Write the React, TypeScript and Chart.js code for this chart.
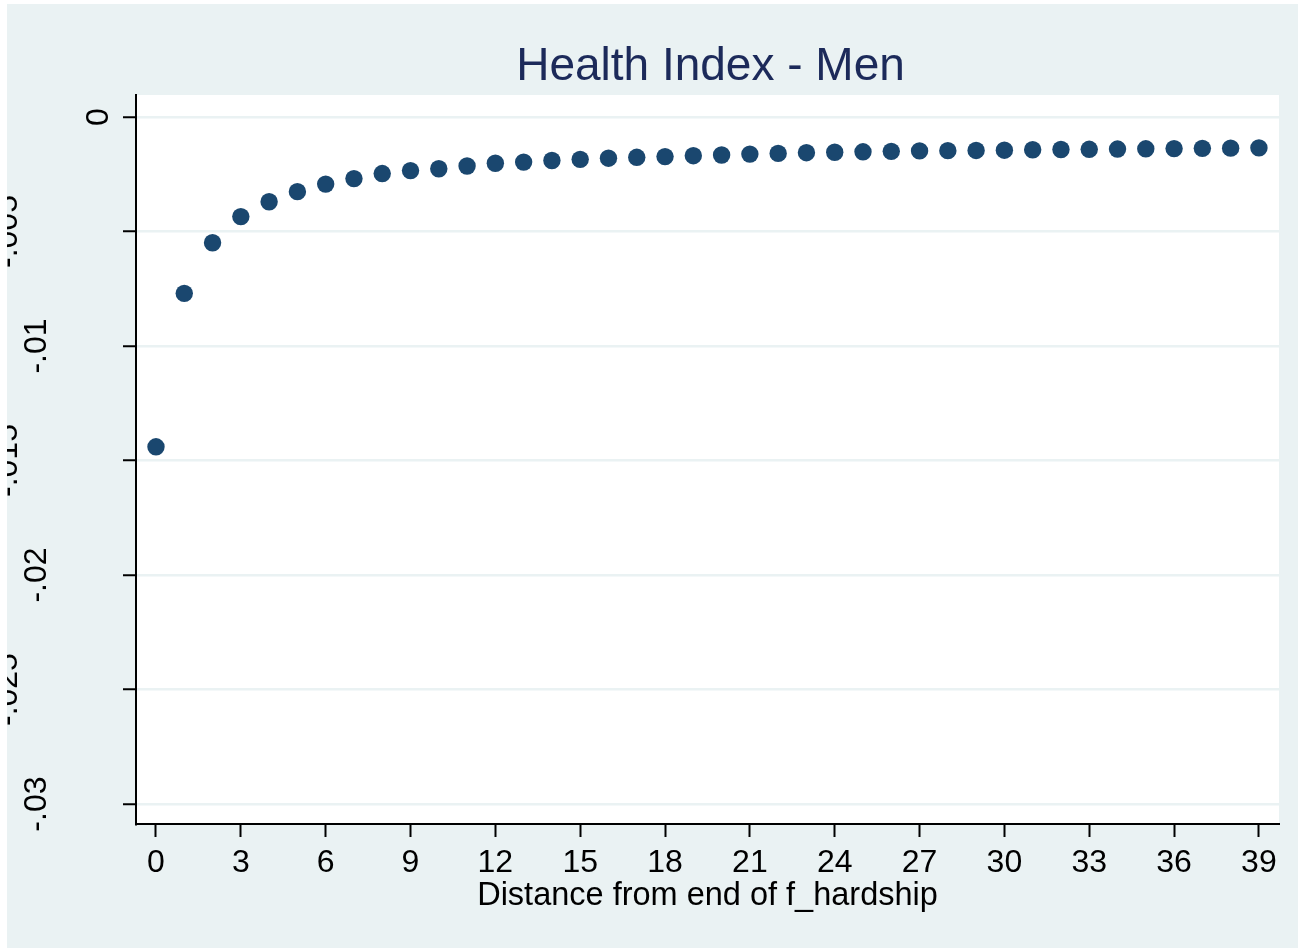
import React, { useEffect, useRef } from "react";
import { Chart, registerables } from "chart.js";

Chart.register(...registerables);

const chartTitle = "Health Index - Men";
const xAxisTitle = "Distance from end of f_hardship";

const xValues = [
  0, 1, 2, 3, 4, 5, 6, 7, 8, 9, 10, 11, 12, 13, 14, 15, 16, 17, 18, 19,
  20, 21, 22, 23, 24, 25, 26, 27, 28, 29, 30, 31, 32, 33, 34, 35, 36, 37, 38, 39,
];

const yValues = [
  -0.0144, -0.0077, -0.00549, -0.00435, -0.0037, -0.00326, -0.00293, -0.00269,
  -0.00247, -0.00234, -0.00226, -0.00214, -0.00202, -0.00197, -0.0019, -0.00185,
  -0.0018, -0.00176, -0.00173, -0.00169, -0.00166, -0.00162, -0.00159, -0.00156,
  -0.00154, -0.00152, -0.0015, -0.00148, -0.00147, -0.00146, -0.00145, -0.00143,
  -0.00142, -0.00141, -0.0014, -0.00139, -0.00138, -0.00137, -0.00136, -0.00135,
];

const xTickValues = [0, 3, 6, 9, 12, 15, 18, 21, 24, 27, 30, 33, 36, 39];
const xTickLabels = ["0", "3", "6", "9", "12", "15", "18", "21", "24", "27", "30", "33", "36", "39"];

const yTickValues = [0, -0.005, -0.01, -0.015, -0.02, -0.025, -0.03];
const yTickLabels = ["0", "-.005", "-.01", "-.015", "-.02", "-.025", "-.03"];

const FONT = "'Liberation Sans', Arial, Helvetica, sans-serif";
const BG = "#EAF2F3";
const MARKER = "#1A476F";

const backgroundPlugin = {
  id: "stataBackground",
  beforeDraw(chart: any) {
    const { ctx, width, height, chartArea } = chart;
    ctx.save();
    ctx.fillStyle = "#ffffff";
    ctx.fillRect(0, 0, width, height);
    ctx.fillStyle = BG;
    ctx.fillRect(7, 4, width - 7, height - 4);
    ctx.fillStyle = "#ffffff";
    ctx.fillRect(chartArea.left, chartArea.top, chartArea.right - chartArea.left, chartArea.bottom - chartArea.top);
    ctx.restore();
  },
  afterDraw(chart: any) {
    const { ctx, chartArea, width, height } = chart;
    const yScale = chart.scales.y;
    ctx.save();
    // title
    ctx.fillStyle = "#1C2A5A";
    ctx.font = `46px ${FONT}`;
    ctx.textAlign = "center";
    ctx.textBaseline = "alphabetic";
    ctx.fillText(chartTitle, (chartArea.left + chartArea.right) / 2 + 3, 80);
    // rotated y tick labels, clipped to the graph region
    ctx.beginPath();
    ctx.rect(7, 4, width - 7, height - 4);
    ctx.clip();
    ctx.fillStyle = "#000000";
    ctx.font = `32px ${FONT}`;
    yTickValues.forEach((v, i) => {
      const label = yTickLabels[i];
      const py = yScale.getPixelForValue(v);
      const w = ctx.measureText(label).width;
      const bx = chartArea.left + 1 - 1.65 * w;
      ctx.save();
      ctx.translate(bx, py);
      ctx.rotate(-Math.PI / 2);
      ctx.textAlign = "center";
      ctx.textBaseline = "alphabetic";
      ctx.fillText(label, 0, 0);
      ctx.restore();
    });
    ctx.restore();
  },
};

export default function App() {
  const canvasRef = useRef<HTMLCanvasElement | null>(null);

  useEffect(() => {
    if (!canvasRef.current) return;
    const chart = new Chart(canvasRef.current, {
      type: "scatter",
      data: {
        datasets: [
          {
            data: xValues.map((x, i) => ({ x, y: yValues[i] })),
            backgroundColor: MARKER,
            borderColor: MARKER,
            borderWidth: 0,
            pointRadius: 8.7,
            pointHoverRadius: 8.7,
          },
        ],
      },
      options: {
        animation: false,
        responsive: true,
        maintainAspectRatio: false,
        events: [],
        layout: { padding: { top: 95, right: 19, left: 0, bottom: 0 } },
        plugins: {
          legend: { display: false },
          title: { display: false },
          tooltip: { enabled: false },
        },
        scales: {
          x: {
            type: "linear",
            min: -0.707,
            max: 39.71,
            afterBuildTicks: (scale: any) => {
              scale.ticks = xTickValues.map((v) => ({ value: v }));
            },
            afterFit: (scale: any) => {
              scale.height = 124;
            },
            border: { display: true, color: "#000000", width: 2 },
            grid: {
              drawOnChartArea: false,
              drawTicks: true,
              tickLength: 13,
              tickColor: "#000000",
              tickWidth: 2,
            },
            ticks: {
              autoSkip: false,
              maxRotation: 0,
              minRotation: 0,
              padding: 7,
              color: "#000000",
              font: { family: FONT, size: 32 },
              callback: (value: any) => {
                const idx = xTickValues.indexOf(Number(value));
                return idx >= 0 ? xTickLabels[idx] : "";
              },
            },
            title: {
              display: true,
              text: xAxisTitle,
              color: "#000000",
              font: { family: FONT, size: 32.5 },
              padding: { top: 0, bottom: 32 },
            },
          },
          y: {
            type: "linear",
            min: -0.03087,
            max: 0.00096,
            afterBuildTicks: (scale: any) => {
              scale.ticks = yTickValues.map((v) => ({ value: v }));
            },
            afterFit: (scale: any) => {
              scale.width = 136;
            },
            border: { display: true, color: "#000000", width: 2 },
            grid: {
              drawOnChartArea: true,
              color: BG,
              lineWidth: 2.5,
              drawTicks: true,
              tickLength: 13,
              tickColor: "#000000",
              tickWidth: 2,
            },
            ticks: { display: false },
          },
        },
      },
      plugins: [backgroundPlugin],
    });
    return () => chart.destroy();
  }, []);

  return (
    <div style={{ position: "fixed", left: 0, top: 0, width: 1298, height: 948 }}>
      <canvas ref={canvasRef} />
    </div>
  );
}
